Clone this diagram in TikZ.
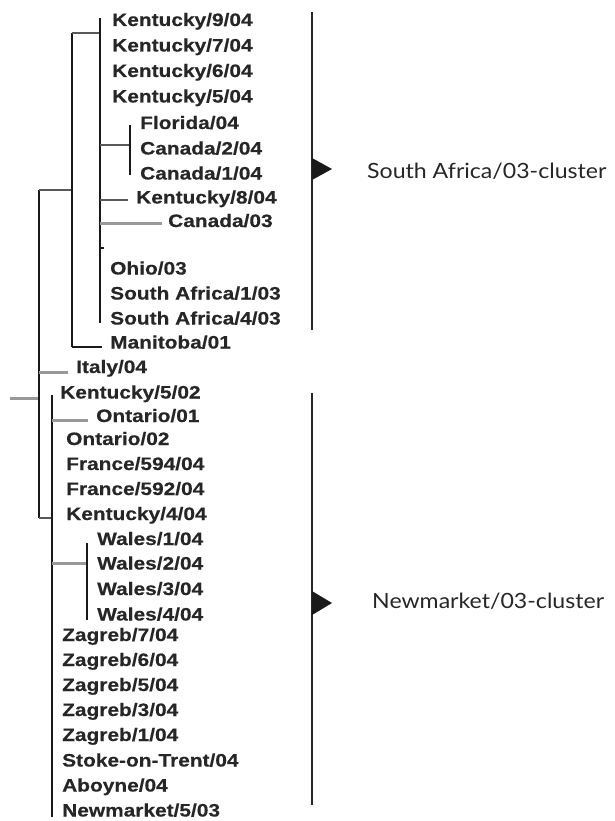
\documentclass[tikz,border=0pt]{standalone}
\usepackage{fontspec}
\newfontfamily\treefont[FakeStretch=1.16,FakeBold=0.4]{Liberation Sans}
\newfontfamily\clfont[FakeStretch=1.1]{Lato}
\begin{document}
\begin{tikzpicture}[x=1pt,y=-1pt,
  lab/.style={anchor=base west,inner sep=0pt,font=\treefont\bfseries\fontsize{18}{18}\selectfont,text=black!85},
  clab/.style={anchor=base west,inner sep=0pt,font=\clfont\fontsize{21}{21}\selectfont,text=black!85},
  bl/.style={line width=1.6pt,black!90},
  thk/.style={line width=2.6pt,black!90},
  dk/.style={line width=1.8pt,black!65},
  gr/.style={line width=3pt,black!40},
  brk/.style={line width=1.3pt,black!85},
  tri/.style={fill=black!90}]
\useasboundingbox (0,0) rectangle (615,821);
% ---- leaf labels ----
\node[lab] (k9) at (112,26) {Kentucky/9/04};
\node[lab] (k7) at (112,51.5) {Kentucky/7/04};
\node[lab] (k6) at (112,77) {Kentucky/6/04};
\node[lab] (k5) at (112,102.5) {Kentucky/5/04};
\node[lab] (fl) at (140,129) {Florida/04};
\node[lab] (ca2) at (140,154.5) {Canada/2/04};
\node[lab] (ca1) at (140,179.5) {Canada/1/04};
\node[lab] (k8) at (136,203.5) {Kentucky/8/04};
\node[lab] (ca03) at (168,227) {Canada/03};
\node[lab] (oh) at (110,274.5) {Ohio/03};
\node[lab] (sa1) at (110,299.5) {South Africa/1/03};
\node[lab] (sa4) at (110,324.5) {South Africa/4/03};
\node[lab] (ma) at (110,348.5) {Manitoba/01};
\node[lab] (it) at (76,373) {Italy/04};
\node[lab] (k502) at (60,398.5) {Kentucky/5/02};
\node[lab] (on1) at (96,422) {Ontario/01};
\node[lab] (on2) at (66,445) {Ontario/02};
\node[lab] (fr594) at (66,470) {France/594/04};
\node[lab] (fr592) at (66,495) {France/592/04};
\node[lab] (k4) at (66,520) {Kentucky/4/04};
\node[lab] (w1) at (97,545) {Wales/1/04};
\node[lab] (w2) at (97,569.5) {Wales/2/04};
\node[lab] (w3) at (97,595) {Wales/3/04};
\node[lab] (w4) at (97,620.5) {Wales/4/04};
\node[lab] (z7) at (62,641) {Zagreb/7/04};
\node[lab] (z6) at (62,666) {Zagreb/6/04};
\node[lab] (z5) at (62,691) {Zagreb/5/04};
\node[lab] (z3) at (62,716) {Zagreb/3/04};
\node[lab] (z1) at (62,741) {Zagreb/1/04};
\node[lab] (st) at (62,766.5) {Stoke-on-Trent/04};
\node[lab] (ab) at (62,791.5) {Aboyne/04};
\node[lab] (nm) at (62,816.5) {Newmarket/5/03};
% ---- cluster labels ----
\node[clab] (sacl) at (367,178.3) {South Africa/03-cluster};
\node[clab] (nmcl) at (372,608.3) {Newmarket/03-cluster};
% ---- tree coordinates ----
\coordinate (root) at (10,398);
\coordinate (r1) at (39,398);
\coordinate (rt) at (39,190);
\coordinate (rb) at (39,518);
\coordinate (aT) at (72,190);
\coordinate (aTop) at (72,33);
\coordinate (aBot) at (72,347);
\coordinate (maE) at (102,347);
\coordinate (itJ) at (39,372);
\coordinate (itE) at (68,372);
\coordinate (kTop) at (100,18);
\coordinate (kThk) at (100,62);
\coordinate (kMid) at (100,33);
\coordinate (kBot) at (100,323);
\coordinate (fJ) at (100,145);
\coordinate (fV) at (130,145);
\coordinate (fT) at (130,125);
\coordinate (fB) at (130,175);
\coordinate (k8J) at (100,200);
\coordinate (k8E) at (128,200);
\coordinate (c3J) at (100,223);
\coordinate (c3E) at (162,223);
\coordinate (tkJ) at (100,248);
\coordinate (tkE) at (104,248);
\coordinate (nT) at (52,395);
\coordinate (nB) at (52,817);
\coordinate (nJ) at (52,518);
\coordinate (o1J) at (52,420);
\coordinate (o1E) at (88,420);
\coordinate (wJ) at (52,563);
\coordinate (wV) at (87,563);
\coordinate (wT) at (87,543);
\coordinate (wB) at (87,620);
% ---- tree lines ----
\draw[gr] (root) -- (r1);
\draw[bl] (rt) -- (rb);
\draw[dk] (rt) -- (aT);
\draw[gr] (itJ) -- (itE);
\draw[dk] (rb) -- (nJ);
\draw[bl] (aTop) -- (aBot);
\draw[bl] (aBot) -- (maE);
\draw[dk] (aTop) -- (kMid);
\draw[thk] (kTop) -- (kThk);
\draw[bl] (kThk) -- (kBot);
\draw[dk] (fJ) -- (fV);
\draw[bl] (fT) -- (fB);
\draw[dk] (k8J) -- (k8E);
\draw[gr] (c3J) -- (c3E);
\draw[bl] (tkJ) -- (tkE);
\draw[bl] (nT) -- (nB);
\draw[gr] (o1J) -- (o1E);
\draw[gr] (wJ) -- (wV);
\draw[bl] (wT) -- (wB);
% ---- cluster brackets ----
\coordinate (b1t) at (312,12);
\coordinate (b1b) at (312,330);
\coordinate (b2t) at (312,393);
\coordinate (b2b) at (312,805);
\draw[brk] (b1t) -- (b1b);
\draw[brk] (b2t) -- (b2b);
\fill[tri] (312,158) -- (332,169) -- (312,180) -- cycle;
\fill[tri] (312,591) -- (332,603) -- (312,615) -- cycle;
\end{tikzpicture}
\end{document}
